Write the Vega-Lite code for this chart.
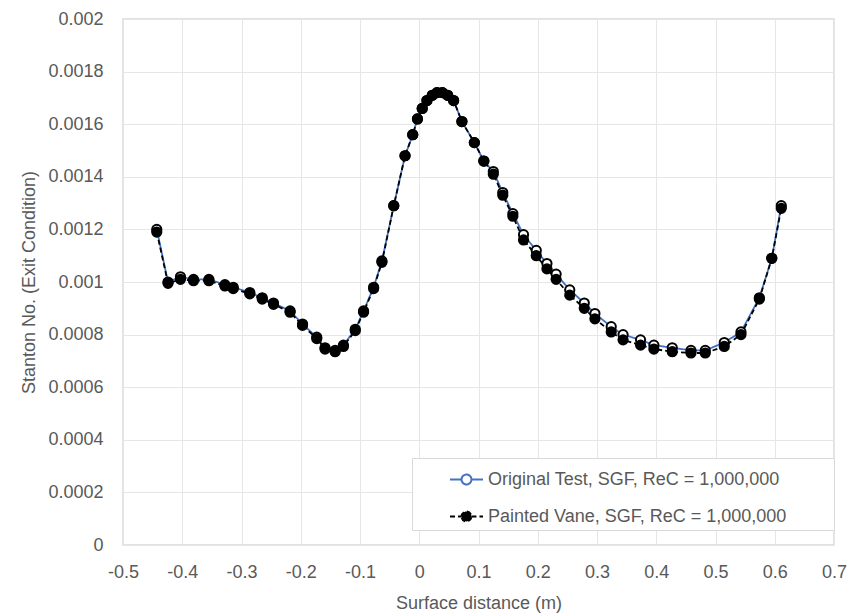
{
  "$schema": "https://vega.github.io/schema/vega-lite/v6.json",
  "width": 711,
  "height": 526,
  "autosize": "none",
  "padding": {"left": 123, "top": 19, "right": 24, "bottom": 70},
  "background": "white",
  "config": {
    "view": {"stroke": "#d9d9d9", "strokeWidth": 1.5},
    "font": "Liberation Sans",
    "axis": {
      "labelFont": "Liberation Sans",
      "titleFont": "Liberation Sans",
      "labelFontSize": 18,
      "titleFontSize": 18,
      "labelColor": "#595959",
      "titleColor": "#595959",
      "titleFontWeight": "normal",
      "gridColor": "#e6e6e6",
      "gridWidth": 1,
      "domain": false,
      "ticks": false,
      "tickSize": 0
    },
    "legend": {
      "labelFont": "Liberation Sans",
      "labelFontSize": 18,
      "labelColor": "#595959",
      "titleFont": "Liberation Sans",
      "titleFontSize": 18,
      "orient": "none",
      "legendX": 289,
      "legendY": 439,
      "padding": 4,
      "strokeColor": "#d9d9d9",
      "fillColor": "white",
      "symbolType": "M-1,0H-0.3M0.3,0H1M-0.3,0A0.3,0.3 0 1,1 0.3,0A0.3,0.3 0 1,1 -0.3,0Z",
      "symbolSize": 1089,
      "symbolStrokeWidth": 2,
      "symbolOffset": 33,
      "rowPadding": 10,
      "labelOffset": 4,
      "labelLimit": 0,
      "titleOrient": "right",
      "titlePadding": 44
    }
  },
  "data": {
    "values": [
      {"series": "Original Test, SGF, ReC = 1,000,000", "x": -0.443, "y": 0.00120},
      {"series": "Original Test, SGF, ReC = 1,000,000", "x": -0.424, "y": 0.00100},
      {"series": "Original Test, SGF, ReC = 1,000,000", "x": -0.403, "y": 0.00102},
      {"series": "Original Test, SGF, ReC = 1,000,000", "x": -0.381, "y": 0.00101},
      {"series": "Original Test, SGF, ReC = 1,000,000", "x": -0.355, "y": 0.00101},
      {"series": "Original Test, SGF, ReC = 1,000,000", "x": -0.328, "y": 0.00099},
      {"series": "Original Test, SGF, ReC = 1,000,000", "x": -0.314, "y": 0.00098},
      {"series": "Original Test, SGF, ReC = 1,000,000", "x": -0.286, "y": 0.00096},
      {"series": "Original Test, SGF, ReC = 1,000,000", "x": -0.265, "y": 0.00094},
      {"series": "Original Test, SGF, ReC = 1,000,000", "x": -0.246, "y": 0.00092},
      {"series": "Original Test, SGF, ReC = 1,000,000", "x": -0.218, "y": 0.00089},
      {"series": "Original Test, SGF, ReC = 1,000,000", "x": -0.197, "y": 0.00084},
      {"series": "Original Test, SGF, ReC = 1,000,000", "x": -0.173, "y": 0.00079},
      {"series": "Original Test, SGF, ReC = 1,000,000", "x": -0.159, "y": 0.00075},
      {"series": "Original Test, SGF, ReC = 1,000,000", "x": -0.142, "y": 0.00074},
      {"series": "Original Test, SGF, ReC = 1,000,000", "x": -0.128, "y": 0.00076},
      {"series": "Original Test, SGF, ReC = 1,000,000", "x": -0.108, "y": 0.00082},
      {"series": "Original Test, SGF, ReC = 1,000,000", "x": -0.094, "y": 0.00089},
      {"series": "Original Test, SGF, ReC = 1,000,000", "x": -0.077, "y": 0.00098},
      {"series": "Original Test, SGF, ReC = 1,000,000", "x": -0.063, "y": 0.00108},
      {"series": "Original Test, SGF, ReC = 1,000,000", "x": -0.043, "y": 0.00129},
      {"series": "Original Test, SGF, ReC = 1,000,000", "x": -0.024, "y": 0.00148},
      {"series": "Original Test, SGF, ReC = 1,000,000", "x": -0.011, "y": 0.00156},
      {"series": "Original Test, SGF, ReC = 1,000,000", "x": -0.003, "y": 0.00162},
      {"series": "Original Test, SGF, ReC = 1,000,000", "x": 0.005, "y": 0.00166},
      {"series": "Original Test, SGF, ReC = 1,000,000", "x": 0.013, "y": 0.00169},
      {"series": "Original Test, SGF, ReC = 1,000,000", "x": 0.022, "y": 0.00171},
      {"series": "Original Test, SGF, ReC = 1,000,000", "x": 0.030, "y": 0.00172},
      {"series": "Original Test, SGF, ReC = 1,000,000", "x": 0.039, "y": 0.00172},
      {"series": "Original Test, SGF, ReC = 1,000,000", "x": 0.048, "y": 0.00171},
      {"series": "Original Test, SGF, ReC = 1,000,000", "x": 0.058, "y": 0.00169},
      {"series": "Original Test, SGF, ReC = 1,000,000", "x": 0.072, "y": 0.00161},
      {"series": "Original Test, SGF, ReC = 1,000,000", "x": 0.093, "y": 0.00153},
      {"series": "Original Test, SGF, ReC = 1,000,000", "x": 0.109, "y": 0.00146},
      {"series": "Original Test, SGF, ReC = 1,000,000", "x": 0.125, "y": 0.00142},
      {"series": "Original Test, SGF, ReC = 1,000,000", "x": 0.141, "y": 0.00134},
      {"series": "Original Test, SGF, ReC = 1,000,000", "x": 0.158, "y": 0.00126},
      {"series": "Original Test, SGF, ReC = 1,000,000", "x": 0.176, "y": 0.00118},
      {"series": "Original Test, SGF, ReC = 1,000,000", "x": 0.1975, "y": 0.00112},
      {"series": "Original Test, SGF, ReC = 1,000,000", "x": 0.2155, "y": 0.00107},
      {"series": "Original Test, SGF, ReC = 1,000,000", "x": 0.231, "y": 0.00103},
      {"series": "Original Test, SGF, ReC = 1,000,000", "x": 0.254, "y": 0.00097},
      {"series": "Original Test, SGF, ReC = 1,000,000", "x": 0.2785, "y": 0.00092},
      {"series": "Original Test, SGF, ReC = 1,000,000", "x": 0.2965, "y": 0.00088},
      {"series": "Original Test, SGF, ReC = 1,000,000", "x": 0.324, "y": 0.00083},
      {"series": "Original Test, SGF, ReC = 1,000,000", "x": 0.344, "y": 0.00080},
      {"series": "Original Test, SGF, ReC = 1,000,000", "x": 0.3735, "y": 0.00078},
      {"series": "Original Test, SGF, ReC = 1,000,000", "x": 0.396, "y": 0.00076},
      {"series": "Original Test, SGF, ReC = 1,000,000", "x": 0.427, "y": 0.00075},
      {"series": "Original Test, SGF, ReC = 1,000,000", "x": 0.4586, "y": 0.00074},
      {"series": "Original Test, SGF, ReC = 1,000,000", "x": 0.4827, "y": 0.00074},
      {"series": "Original Test, SGF, ReC = 1,000,000", "x": 0.5148, "y": 0.00077},
      {"series": "Original Test, SGF, ReC = 1,000,000", "x": 0.543, "y": 0.00081},
      {"series": "Original Test, SGF, ReC = 1,000,000", "x": 0.574, "y": 0.00094},
      {"series": "Original Test, SGF, ReC = 1,000,000", "x": 0.595, "y": 0.00109},
      {"series": "Original Test, SGF, ReC = 1,000,000", "x": 0.611, "y": 0.00129},
      {"series": "Painted Vane, SGF, ReC = 1,000,000", "x": -0.443, "y": 0.00119},
      {"series": "Painted Vane, SGF, ReC = 1,000,000", "x": -0.424, "y": 0.000995},
      {"series": "Painted Vane, SGF, ReC = 1,000,000", "x": -0.403, "y": 0.00101},
      {"series": "Painted Vane, SGF, ReC = 1,000,000", "x": -0.381, "y": 0.001005},
      {"series": "Painted Vane, SGF, ReC = 1,000,000", "x": -0.355, "y": 0.001005},
      {"series": "Painted Vane, SGF, ReC = 1,000,000", "x": -0.328, "y": 0.000985},
      {"series": "Painted Vane, SGF, ReC = 1,000,000", "x": -0.314, "y": 0.000975},
      {"series": "Painted Vane, SGF, ReC = 1,000,000", "x": -0.286, "y": 0.000955},
      {"series": "Painted Vane, SGF, ReC = 1,000,000", "x": -0.265, "y": 0.000935},
      {"series": "Painted Vane, SGF, ReC = 1,000,000", "x": -0.246, "y": 0.000915},
      {"series": "Painted Vane, SGF, ReC = 1,000,000", "x": -0.218, "y": 0.000885},
      {"series": "Painted Vane, SGF, ReC = 1,000,000", "x": -0.197, "y": 0.000835},
      {"series": "Painted Vane, SGF, ReC = 1,000,000", "x": -0.173, "y": 0.000785},
      {"series": "Painted Vane, SGF, ReC = 1,000,000", "x": -0.159, "y": 0.000745},
      {"series": "Painted Vane, SGF, ReC = 1,000,000", "x": -0.142, "y": 0.000735},
      {"series": "Painted Vane, SGF, ReC = 1,000,000", "x": -0.128, "y": 0.000755},
      {"series": "Painted Vane, SGF, ReC = 1,000,000", "x": -0.108, "y": 0.000815},
      {"series": "Painted Vane, SGF, ReC = 1,000,000", "x": -0.094, "y": 0.000885},
      {"series": "Painted Vane, SGF, ReC = 1,000,000", "x": -0.077, "y": 0.000975},
      {"series": "Painted Vane, SGF, ReC = 1,000,000", "x": -0.063, "y": 0.001075},
      {"series": "Painted Vane, SGF, ReC = 1,000,000", "x": -0.043, "y": 0.00129},
      {"series": "Painted Vane, SGF, ReC = 1,000,000", "x": -0.024, "y": 0.00148},
      {"series": "Painted Vane, SGF, ReC = 1,000,000", "x": -0.011, "y": 0.00156},
      {"series": "Painted Vane, SGF, ReC = 1,000,000", "x": -0.003, "y": 0.00162},
      {"series": "Painted Vane, SGF, ReC = 1,000,000", "x": 0.005, "y": 0.00166},
      {"series": "Painted Vane, SGF, ReC = 1,000,000", "x": 0.013, "y": 0.00169},
      {"series": "Painted Vane, SGF, ReC = 1,000,000", "x": 0.022, "y": 0.00171},
      {"series": "Painted Vane, SGF, ReC = 1,000,000", "x": 0.030, "y": 0.00172},
      {"series": "Painted Vane, SGF, ReC = 1,000,000", "x": 0.039, "y": 0.00172},
      {"series": "Painted Vane, SGF, ReC = 1,000,000", "x": 0.048, "y": 0.00171},
      {"series": "Painted Vane, SGF, ReC = 1,000,000", "x": 0.058, "y": 0.00169},
      {"series": "Painted Vane, SGF, ReC = 1,000,000", "x": 0.072, "y": 0.00161},
      {"series": "Painted Vane, SGF, ReC = 1,000,000", "x": 0.093, "y": 0.00153},
      {"series": "Painted Vane, SGF, ReC = 1,000,000", "x": 0.109, "y": 0.00146},
      {"series": "Painted Vane, SGF, ReC = 1,000,000", "x": 0.125, "y": 0.00141},
      {"series": "Painted Vane, SGF, ReC = 1,000,000", "x": 0.141, "y": 0.00133},
      {"series": "Painted Vane, SGF, ReC = 1,000,000", "x": 0.158, "y": 0.00125},
      {"series": "Painted Vane, SGF, ReC = 1,000,000", "x": 0.176, "y": 0.00116},
      {"series": "Painted Vane, SGF, ReC = 1,000,000", "x": 0.1975, "y": 0.00110},
      {"series": "Painted Vane, SGF, ReC = 1,000,000", "x": 0.2155, "y": 0.00105},
      {"series": "Painted Vane, SGF, ReC = 1,000,000", "x": 0.231, "y": 0.00101},
      {"series": "Painted Vane, SGF, ReC = 1,000,000", "x": 0.254, "y": 0.00095},
      {"series": "Painted Vane, SGF, ReC = 1,000,000", "x": 0.2785, "y": 0.00090},
      {"series": "Painted Vane, SGF, ReC = 1,000,000", "x": 0.2965, "y": 0.00086},
      {"series": "Painted Vane, SGF, ReC = 1,000,000", "x": 0.324, "y": 0.00081},
      {"series": "Painted Vane, SGF, ReC = 1,000,000", "x": 0.344, "y": 0.00078},
      {"series": "Painted Vane, SGF, ReC = 1,000,000", "x": 0.3735, "y": 0.00076},
      {"series": "Painted Vane, SGF, ReC = 1,000,000", "x": 0.396, "y": 0.000745},
      {"series": "Painted Vane, SGF, ReC = 1,000,000", "x": 0.427, "y": 0.000735},
      {"series": "Painted Vane, SGF, ReC = 1,000,000", "x": 0.4586, "y": 0.00073},
      {"series": "Painted Vane, SGF, ReC = 1,000,000", "x": 0.4827, "y": 0.00073},
      {"series": "Painted Vane, SGF, ReC = 1,000,000", "x": 0.5148, "y": 0.000755},
      {"series": "Painted Vane, SGF, ReC = 1,000,000", "x": 0.543, "y": 0.0008},
      {"series": "Painted Vane, SGF, ReC = 1,000,000", "x": 0.574, "y": 0.000935},
      {"series": "Painted Vane, SGF, ReC = 1,000,000", "x": 0.595, "y": 0.00109},
      {"series": "Painted Vane, SGF, ReC = 1,000,000", "x": 0.611, "y": 0.00128}
    ]
  },
  "layer": [
    {
      "mark": {"type": "line", "strokeWidth": 1.8},
      "encoding": {
        "x": {
          "field": "x", "type": "quantitative",
          "scale": {"domain": [-0.5, 0.7], "nice": false, "zero": false},
          "axis": {"values": [-0.5, -0.4, -0.3, -0.2, -0.1, 0, 0.1, 0.2, 0.3, 0.4, 0.5, 0.6, 0.7], "labelExpr": "'' + datum.value", "labelPadding": 18, "titlePadding": 13, "labelFlush": false},
          "title": "Surface distance (m)"
        },
        "y": {
          "field": "y", "type": "quantitative",
          "scale": {"domain": [0, 0.002], "nice": false},
          "axis": {"values": [0, 0.0002, 0.0004, 0.0006, 0.0008, 0.001, 0.0012, 0.0014, 0.0016, 0.0018, 0.002], "labelExpr": "'' + datum.value", "labelPadding": 20, "titlePadding": 9, "labelFlush": false},
          "title": "Stanton No. (Exit Condition)"
        },
        "stroke": {
          "field": "series", "type": "nominal",
          "scale": {"domain": ["Original Test, SGF, ReC = 1,000,000", "Painted Vane, SGF, ReC = 1,000,000"], "range": ["#4472C4", "#000000"]},
          "legend": {"title": "\u00a0"}
        },
        "strokeDash": {
          "field": "series", "type": "nominal",
          "scale": {"domain": ["Original Test, SGF, ReC = 1,000,000", "Painted Vane, SGF, ReC = 1,000,000"], "range": [[1, 0], [5, 3]]},
          "legend": {"title": "\u00a0"}
        }
      }
    },
    {
      "mark": {"type": "point", "size": 85, "stroke": "black", "strokeWidth": 2, "opacity": 1},
      "encoding": {
        "x": {"field": "x", "type": "quantitative"},
        "y": {"field": "y", "type": "quantitative"},
        "fill": {
          "field": "series", "type": "nominal",
          "scale": {"domain": ["Original Test, SGF, ReC = 1,000,000", "Painted Vane, SGF, ReC = 1,000,000"], "range": ["white", "black"]},
          "legend": {"title": "\u00a0"}
        }
      }
    }
  ]
}
